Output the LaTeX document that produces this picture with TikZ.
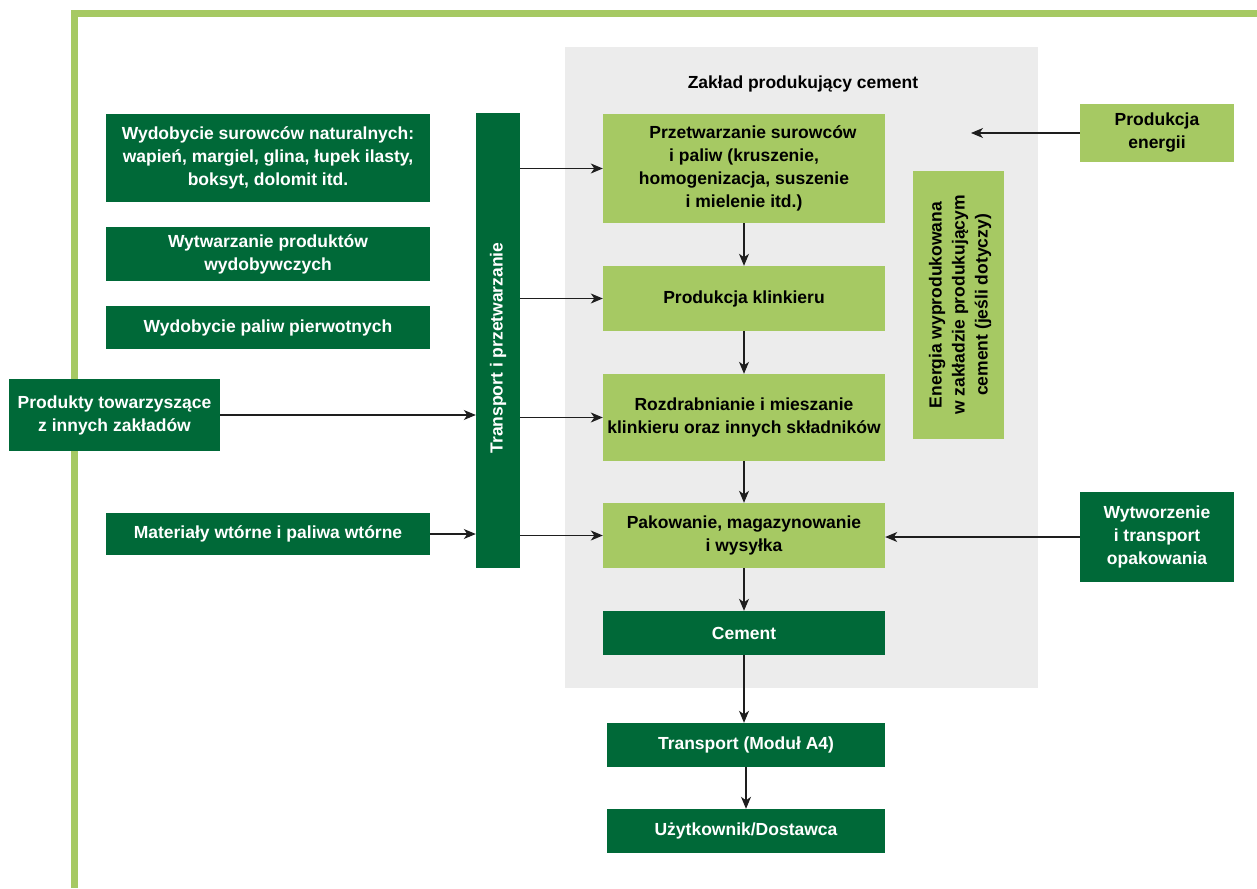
\documentclass[tikz,border=0pt]{standalone}
\usepackage{fontspec}
\setmainfont{Liberation Sans}
\usetikzlibrary{arrows.meta}
\definecolor{dkgreen}{RGB}{0,105,56}
\definecolor{ltgreen}{RGB}{166,201,99}
\definecolor{bggrey}{RGB}{236,236,236}
\definecolor{arrowc}{RGB}{30,30,30}
\tikzset{
  box/.style={rectangle, inner sep=0pt, align=center,
    font=\bfseries\fontsize{17.5}{23}\selectfont},
  dkbox/.style={box, fill=dkgreen, text=white},
  ltbox/.style={box, fill=ltgreen, text=black},
  arr/.style={draw=arrowc, line width=1.1pt, -{Stealth[length=12pt,width=10pt,inset=3.5pt]}},
}
\begin{document}
\begin{tikzpicture}[x=1pt,y=-1pt]
\useasboundingbox (0,0) rectangle (1257,888);
% frame
\fill[ltgreen] (71,10) rectangle (1257,17);
\fill[ltgreen] (71,10) rectangle (78,888);
% plant background
\fill[bggrey] (565,47) rectangle (1038,688);
\node[box] (title) at (803,84) {Zakład produkujący cement};

% left boxes
\node[dkbox, minimum width=324pt, minimum height=88pt] (ws) at (268,158) {Wydobycie surowców naturalnych:\\wapień, margiel, glina, łupek ilasty,\\boksyt, dolomit itd.};
\node[dkbox, minimum width=324pt, minimum height=54pt] (wp) at (268,254) {Wytwarzanie produktów\\wydobywczych};
\node[dkbox, minimum width=324pt, minimum height=43pt] (wpp) at (268,327.5) {Wydobycie paliw pierwotnych};
\node[dkbox, minimum width=211pt, minimum height=72pt] (pt) at (114.5,415) {Produkty towarzyszące\\z innych zakładów};
\node[dkbox, minimum width=324pt, minimum height=42pt] (mw) at (268,534) {Materiały wtórne i paliwa wtórne};

% transport bar
\node[dkbox, minimum width=44pt, minimum height=455pt] (tr) at (498,340.5) {};
\node[box, text=white, rotate=90] (trt) at (498,348) {Transport i przetwarzanie};

% centre column
\node[ltbox, minimum width=282pt, minimum height=109pt] (p1) at (744,168.5) {\hspace*{18pt}Przetwarzanie surowców\\i paliw (kruszenie,\\homogenizacja, suszenie\\i mielenie itd.)};
\node[ltbox, minimum width=282pt, minimum height=65pt] (p2) at (744,298.5) {Produkcja klinkieru};
\node[ltbox, minimum width=282pt, minimum height=87pt] (p3) at (744,417.5) {Rozdrabnianie i mieszanie\\klinkieru oraz innych składników};
\node[ltbox, minimum width=282pt, minimum height=65pt] (p4) at (744,535.5) {Pakowanie, magazynowanie\\i wysyłka};
\node[dkbox, minimum width=282pt, minimum height=44pt] (cem) at (744,633) {Cement};
\node[dkbox, minimum width=278pt, minimum height=44pt] (a4) at (746,745) {Transport (Moduł A4)};
\node[dkbox, minimum width=278pt, minimum height=44pt] (uz) at (746,831) {Użytkownik/Dostawca};

% energy
\node[ltbox, minimum width=91pt, minimum height=268pt] (en) at (958.5,305) {};
\node[box, rotate=90] (ent) at (960,305) {Energia wyprodukowana\\w zakładzie produkującym\\cement (jeśli dotyczy)};
\node[ltbox, minimum width=154pt, minimum height=58pt] (pe) at (1157,133) {Produkcja\\energii};
\coordinate (peend) at (971,133);
\node[dkbox, minimum width=154pt, minimum height=90pt] (wy) at (1157,537) {Wytworzenie\\i transport\\opakowania};

% arrows into transport
\draw[arr] (pt.east) -- (pt.east -| tr.west);
\draw[arr] (mw.east) -- (mw.east -| tr.west);
% arrows from transport
\draw[arr] (tr.east |- p1.west) -- (p1.west);
\draw[arr] (tr.east |- p2.west) -- (p2.west);
\draw[arr] (tr.east |- p3.west) -- (p3.west);
\draw[arr] (tr.east |- p4.west) -- (p4.west);
% vertical chain
\draw[arr] (p1.south) -- (p2.north);
\draw[arr] (p2.south) -- (p3.north);
\draw[arr] (p3.south) -- (p4.north);
\draw[arr] (p4.south) -- (cem.north);
\draw[arr] (cem.south) -- (cem.south |- a4.north);
\draw[arr] (a4.south) -- (uz.north);
% right inputs
\draw[arr] (pe.west) -- (peend);
\draw[arr] (wy.west) -- (wy.west -| p4.east);
\end{tikzpicture}
\end{document}
